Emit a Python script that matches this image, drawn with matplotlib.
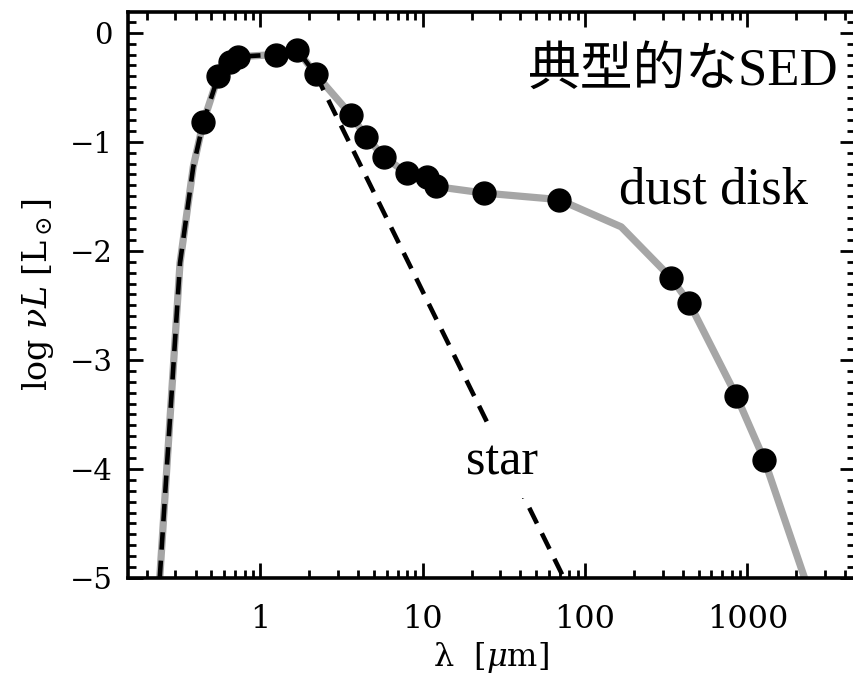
import numpy as np
import matplotlib
matplotlib.use('Agg')
import matplotlib.pyplot as plt
from matplotlib.ticker import MultipleLocator, LogLocator, NullFormatter

# photometry points (wavelength in micron, log nuL in Lsun)
obs_wl = [0.445, 0.55, 0.65, 0.73, 1.24, 1.69, 2.19, 3.6, 4.5, 5.8, 8.0,
          10.6, 12.0, 23.8, 69, 340, 439, 855, 1274]
obs_y = [-0.82, -0.40, -0.27, -0.22, -0.20, -0.16, -0.38, -0.75, -0.96,
         -1.14, -1.29, -1.32, -1.41, -1.47, -1.53, -2.25, -2.48, -3.33, -3.92]

# star + disk model (gray)
disk_wl = [0.24, 0.32, 0.386, 0.445, 0.55, 0.65, 0.73, 1.24, 1.69, 2.19,
           3.6, 4.5, 5.8, 8.0, 10.6, 12.0, 23.8, 69, 167, 340, 439, 855,
           1274, 2250]
disk_y = [-5.0, -2.11, -1.23, -0.82, -0.40, -0.27, -0.22, -0.20, -0.16,
          -0.38, -0.75, -0.96, -1.14, -1.29, -1.32, -1.41, -1.47, -1.53,
          -1.78, -2.25, -2.48, -3.33, -3.92, -5.0]

# bare photosphere (dashed)
star_wl = [0.24, 0.32, 0.386, 0.445, 0.55, 0.65, 0.73, 1.24, 1.69, 2.19, 74]
star_y = [-5.0, -2.11, -1.23, -0.82, -0.40, -0.27, -0.22, -0.20, -0.16,
          -0.38, -5.0]

xticks = [1, 10, 100, 1000]
xticklabels = ['1', '10', '100', '1000']
yticks = [0, -1, -2, -3, -4, -5]

plt.rcParams['mathtext.fontset'] = 'dejavuserif'
serif = 'DejaVu Serif'
times_cjk = ['Liberation Serif', 'Noto Sans CJK JP']

fig = plt.figure(figsize=(8.54, 6.78), dpi=100)
ax = fig.add_axes([128 / 854, 100 / 678, 727 / 854, 566 / 678])

ax.plot(disk_wl, disk_y, color='#a6a6a6', lw=5.2, solid_capstyle='butt', zorder=2)
ax.plot(star_wl, star_y, color='black', lw=3.3, dashes=(3.8, 2.4), zorder=3)
ax.plot(obs_wl, obs_y, 'o', color='black', ms=16.5, zorder=4)

ax.set_xscale('log')
ax.set_xlim(0.153, 4600)
ax.set_ylim(-5, 0.19)

ax.set_xticks(xticks)
ax.set_xticklabels(xticklabels)
ax.xaxis.set_minor_locator(LogLocator(base=10, subs=np.arange(2, 10)))
ax.xaxis.set_minor_formatter(NullFormatter())
ax.set_yticks(yticks)
ax.set_yticklabels([f'\u2212{abs(v)}' if v < 0 else f'{v}' for v in yticks])
ax.yaxis.set_minor_locator(MultipleLocator(0.1))
for lab in ax.get_xticklabels():
    lab.set_family(serif)
    lab.set_fontsize(23)
for lab in ax.get_yticklabels():
    lab.set_family(serif)
    lab.set_fontsize(21)

ax.tick_params(which='both', direction='in', top=True, right=True, width=2.0)
ax.tick_params(which='major', length=11)
ax.tick_params(which='minor', length=5.5)
ax.tick_params(axis='x', which='major', pad=19)
ax.tick_params(axis='y', which='major', pad=11)
for s in ax.spines.values():
    s.set_linewidth(2.6)

ax.set_xlabel(r'λ  [$\mu$m]', family=serif, fontsize=23, labelpad=3)
ax.set_ylabel(r'log $\nu L$ [L$_\odot$]', family=serif, fontsize=24, labelpad=10)

ax.text(0.977, 0.871, '典型的なSED', transform=ax.transAxes, ha='right',
        va='baseline', fontsize=38, family=times_cjk)
ax.text(0.806, 0.661, 'dust disk', transform=ax.transAxes, ha='center',
        va='baseline', fontsize=38, family=times_cjk)
ax.text(0.514, 0.182, 'star', transform=ax.transAxes, ha='center',
        va='baseline', fontsize=36, family=times_cjk, zorder=5,
        bbox=dict(facecolor='white', edgecolor='none', pad=9))

fig.savefig('out.png', dpi=100)
